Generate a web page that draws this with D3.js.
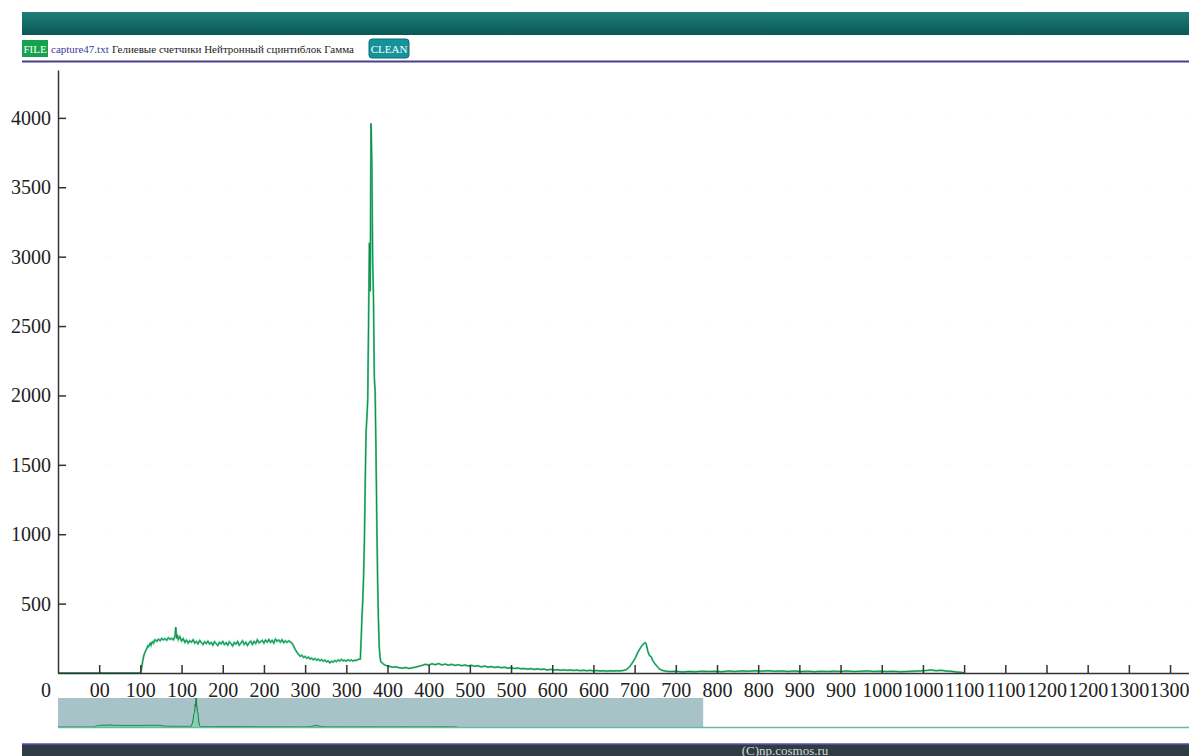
<!DOCTYPE html>
<html>
<head>
<meta charset="utf-8">
<script src="https://cdn.jsdelivr.net/npm/d3@7"></script>
<style>
  body { margin: 0; background: #fff; font-family: "Liberation Serif", "Times New Roman", serif; }
</style>
</head>
<body>
<svg id="chart" width="1189" height="756"></svg>
<script>
// spectrum: [channel, counts]
const spectrum = [
  [0,0],[50,0],[100,0],[101,20],[102,55],[103,90],[104,120],[105,140],[106,155],[107,165],[108,180],[109,195],
  [110,190],[111,205],[112,215],[113,200],[114,220],[115,225],[116,215],[117,235],[118,240],[120,228],[122,245],
  [124,232],[126,250],[128,238],[130,248],[132,235],[134,255],[136,242],[138,250],[140,238],[142,265],[143,330],
  [144,250],[145,275],[146,240],[148,262],[150,230],[152,248],[154,220],[156,238],[158,215],[160,232],[162,222],
  [164,240],[166,215],[168,228],[170,210],[172,235],[174,218],[176,205],[178,225],[180,212],[182,230],[184,208],
  [186,220],[188,200],[190,226],[192,212],[194,198],[196,222],[198,210],[200,228],[202,205],[204,218],[206,200],
  [208,225],[210,212],[212,195],[214,220],[216,208],[218,228],[220,200],[222,215],[224,232],[226,205],[228,222],
  [230,198],[232,218],[234,230],[236,205],[238,228],[240,212],[242,240],[244,218],[246,226],[248,235],[250,215],
  [252,238],[254,222],[256,242],[258,220],[260,236],[262,215],[264,245],[266,228],[268,238],[270,222],[272,240],
  [274,218],[276,232],[278,220],[280,232],[282,225],[284,215],[286,195],[288,170],[290,150],[292,135],[294,120],
  [296,128],[298,112],[300,120],[302,105],[304,115],[306,100],[308,108],[310,95],[312,104],[314,92],[316,100],
  [318,88],[320,97],[322,85],[324,93],[326,80],[328,88],[330,72],[332,85],[334,78],[336,90],[338,82],[340,95],
  [342,86],[344,98],[346,88],[348,92],[350,85],[352,96],[354,88],[356,94],[358,86],[360,92],[362,90],[364,96],
  [366,100],[367,100],[368,240],[369,400],[370,530],[371,700],[372,960],[373,1390],[374,1740],[375,1840],
  [376,1970],[377,2510],[378,3100],[379,2750],[380,3960],[381,3680],[382,2980],[383,2690],[384,2130],[385,2030],
  [386,1610],[387,1100],[388,670],[389,385],[390,185],[391,110],[392,80],[394,70],[396,60],
  [398,55],[402,48],[406,42],[410,45],[414,38],[418,35],[422,40],[426,33],[430,38],[434,42],[438,48],[442,55],
  [446,62],[450,58],[454,66],[458,60],[462,68],[466,58],[470,64],[474,56],[478,62],[482,55],[486,60],[490,52],
  [494,58],[498,50],[502,56],[506,48],[510,52],[514,44],[518,50],[522,42],[526,46],[530,40],[534,44],[538,38],
  [542,42],[546,35],[550,38],[554,32],[558,36],[562,30],[566,33],[570,28],[574,32],[578,26],[582,30],[586,25],
  [590,28],[594,22],[598,26],[602,21],[606,24],[610,20],[614,23],[618,19],[622,22],[626,18],[630,21],[634,17],
  [638,20],[642,16],[646,19],[650,15],[654,18],[658,14],[662,17],[666,13],[670,16],[674,14],[678,17],[682,15],
  [686,18],[690,25],[694,45],[698,80],[701,110],[704,150],[707,180],[710,205],[712,215],[713,218],[714,210],
  [716,158],[718,125],[720,118],[722,90],[724,72],[727,50],[730,30],[733,20],[737,14],[742,10],[750,12],[758,8],
  [766,11],[774,9],[782,13],[790,10],[798,12],[806,9],[814,14],[822,11],[830,15],[838,12],[846,16],[854,13],
  [862,17],[870,12],[878,15],[886,11],[894,14],[902,10],[910,13],[918,9],[926,12],[934,10],[942,13],[950,11],
  [958,14],[966,10],[974,12],[982,15],[990,11],[998,13],[1006,10],[1014,12],[1022,9],[1030,11],[1038,13],
  [1046,15],[1054,18],[1060,22],[1066,16],[1072,20],[1078,14],[1084,12],[1090,8],[1096,5],[1100,0]
];

// axis ticks as the program prints them
const xTickValues = [50,100,150,200,250,300,350,400,450,500,550,600,650,700,750,800,850,900,950,1000,1050,1100,1150,1200,1250,1300,1350];
const xTickLabels = ["00","100","100","200","200","300","300","400","400","500","500","600","600","700","700","800","800","900","900","1000","1000","1100","1100","1200","1200","1300","1300"];
const yTickValues = [500,1000,1500,2000,2500,3000,3500,4000];

// overview (mini chart) selection
const brushExtent = [0, 1777];

// header texts
const fileName = "capture47.txt";
const modeNames = "Гелиевые счетчики Нейтронный сцинтиблок Гамма";
const footerText = "(C)np.cosmos.ru";

const svg = d3.select("#chart");

// top band
const defs = svg.append("defs");
const band = defs.append("linearGradient").attr("id", "band").attr("x1", 0).attr("x2", 0).attr("y1", 0).attr("y2", 1);
band.append("stop").attr("offset", "0%").attr("stop-color", "#1e7e79");
band.append("stop").attr("offset", "100%").attr("stop-color", "#0a5856");

svg.append("rect")
    .attr("x", 22).attr("y", 12)
    .attr("width", 1167).attr("height", 23)
    .attr("fill", "url(#band)");

// toolbar
svg.append("rect")
    .attr("x", 22).attr("y", 40)
    .attr("width", 26).attr("height", 17)
    .attr("fill", "#14a24c");
svg.append("text")
    .attr("x", 35).attr("y", 53)
    .attr("text-anchor", "middle")
    .attr("fill", "#fff")
    .style("font-size", "11px")
    .text("FILE");
svg.append("text")
    .attr("x", 51).attr("y", 53)
    .attr("fill", "#3a3a9e")
    .style("font-size", "11px")
    .text(fileName);
svg.append("text")
    .attr("x", 112).attr("y", 53)
    .attr("fill", "#222")
    .style("font-size", "11px")
    .text(modeNames);
svg.append("rect")
    .attr("x", 369).attr("y", 39)
    .attr("width", 40).attr("height", 19)
    .attr("rx", 3)
    .attr("fill", "#15939a")
    .attr("stroke", "#0c6f74");
svg.append("text")
    .attr("x", 389).attr("y", 53)
    .attr("text-anchor", "middle")
    .attr("fill", "#fff")
    .style("font-size", "11px")
    .text("CLEAN");

// separator under toolbar
svg.append("line")
    .attr("x1", 22).attr("x2", 1189)
    .attr("y1", 61.5).attr("y2", 61.5)
    .attr("stroke", "#4b3f8f")
    .attr("stroke-width", 2);

// main scales
const x = d3.scaleLinear().domain([0, 1373]).range([58, 1189]);
const y = d3.scaleLinear().domain([0, 4345]).range([673, 70]);

// faint grid
svg.append("g")
  .selectAll("line")
  .data(yTickValues)
  .enter()
  .append("line")
    .attr("x1", 66).attr("x2", 1189)
    .attr("y1", d => y(d)).attr("y2", d => y(d))
    .attr("stroke", "#e2e2e2")
    .attr("stroke-dasharray", "1,39");

// spectrum line
const line = d3.line()
    .x(d => x(d[0]))
    .y(d => y(d[1]));

svg.append("path")
    .datum(spectrum)
    .attr("fill", "none")
    .attr("stroke", "#5ccf9c")
    .attr("stroke-width", 2)
    .attr("d", line);
svg.append("path")
    .datum(spectrum)
    .attr("fill", "none")
    .attr("stroke", "#138a48")
    .attr("stroke-width", 1)
    .attr("d", line);

// axes
const xAxis = d3.axisBottom(x)
    .tickValues(xTickValues)
    .tickFormat((d, i) => xTickLabels[i])
    .tickSizeInner(-8)
    .tickSizeOuter(0)
    .tickPadding(10);

const yAxis = d3.axisLeft(y)
    .tickValues(yTickValues)
    .tickFormat(d3.format("d"))
    .tickSizeInner(-8)
    .tickSizeOuter(0)
    .tickPadding(7);

const gx = svg.append("g")
    .attr("transform", "translate(0,673)")
    .call(xAxis);
const gy = svg.append("g")
    .attr("transform", "translate(58,0)")
    .call(yAxis);

[gx, gy].forEach(g => {
  g.select(".domain").attr("stroke", "#333").attr("stroke-width", 1.5);
  g.selectAll(".tick line").attr("stroke", "#333").attr("stroke-width", 1.5);
  g.selectAll(".tick text")
      .attr("fill", "#222")
      .style("font-family", "'Liberation Serif', serif")
      .style("font-size", "20px");
});

// last label sits flush with the right edge
gx.selectAll(".tick text")
    .filter((d, i) => i === xTickValues.length - 1)
    .attr("text-anchor", "end")
    .attr("x", 1189 - x(1350));

// origin label
svg.append("text")
    .attr("x", 51).attr("y", 697)
    .attr("text-anchor", "end")
    .attr("fill", "#222")
    .style("font-size", "20px")
    .text("0");

// overview chart
const xm = d3.scaleLinear().domain([0, 3115]).range([58, 1189]);
const ym = d3.scaleLinear().domain([0, 3960]).range([727, 698]);

svg.append("rect")
    .attr("x", xm(brushExtent[0]))
    .attr("y", 698)
    .attr("width", xm(brushExtent[1]) - xm(brushExtent[0]))
    .attr("height", 29)
    .attr("fill", "#a7c3c7");

svg.append("path")
    .datum(spectrum)
    .attr("fill", "#7fd0ae")
    .attr("fill-opacity", 0.7)
    .attr("d", d3.area().x(d => xm(d[0])).y0(727).y1(d => ym(d[1])));
svg.append("path")
    .datum(spectrum)
    .attr("fill", "none")
    .attr("stroke", "#157a3e")
    .attr("stroke-width", 1)
    .attr("d", d3.line().x(d => xm(d[0])).y(d => ym(d[1])));

svg.append("line")
    .attr("x1", 58).attr("x2", 1189)
    .attr("y1", 727.5).attr("y2", 727.5)
    .attr("stroke", "#64bd9f")
    .attr("stroke-width", 1.5);

// footer
svg.append("rect")
    .attr("x", 22).attr("y", 744)
    .attr("width", 1167).attr("height", 12)
    .attr("fill", "#2f3c44");
svg.append("line")
    .attr("x1", 22).attr("x2", 1189)
    .attr("y1", 744).attr("y2", 744)
    .attr("stroke", "#5b4fb0")
    .attr("stroke-width", 1.5);
svg.append("text")
    .attr("x", 785).attr("y", 754.5)
    .attr("text-anchor", "middle")
    .attr("fill", "#d8d8d8")
    .style("font-size", "13px")
    .text(footerText);
</script>
</body>
</html>
